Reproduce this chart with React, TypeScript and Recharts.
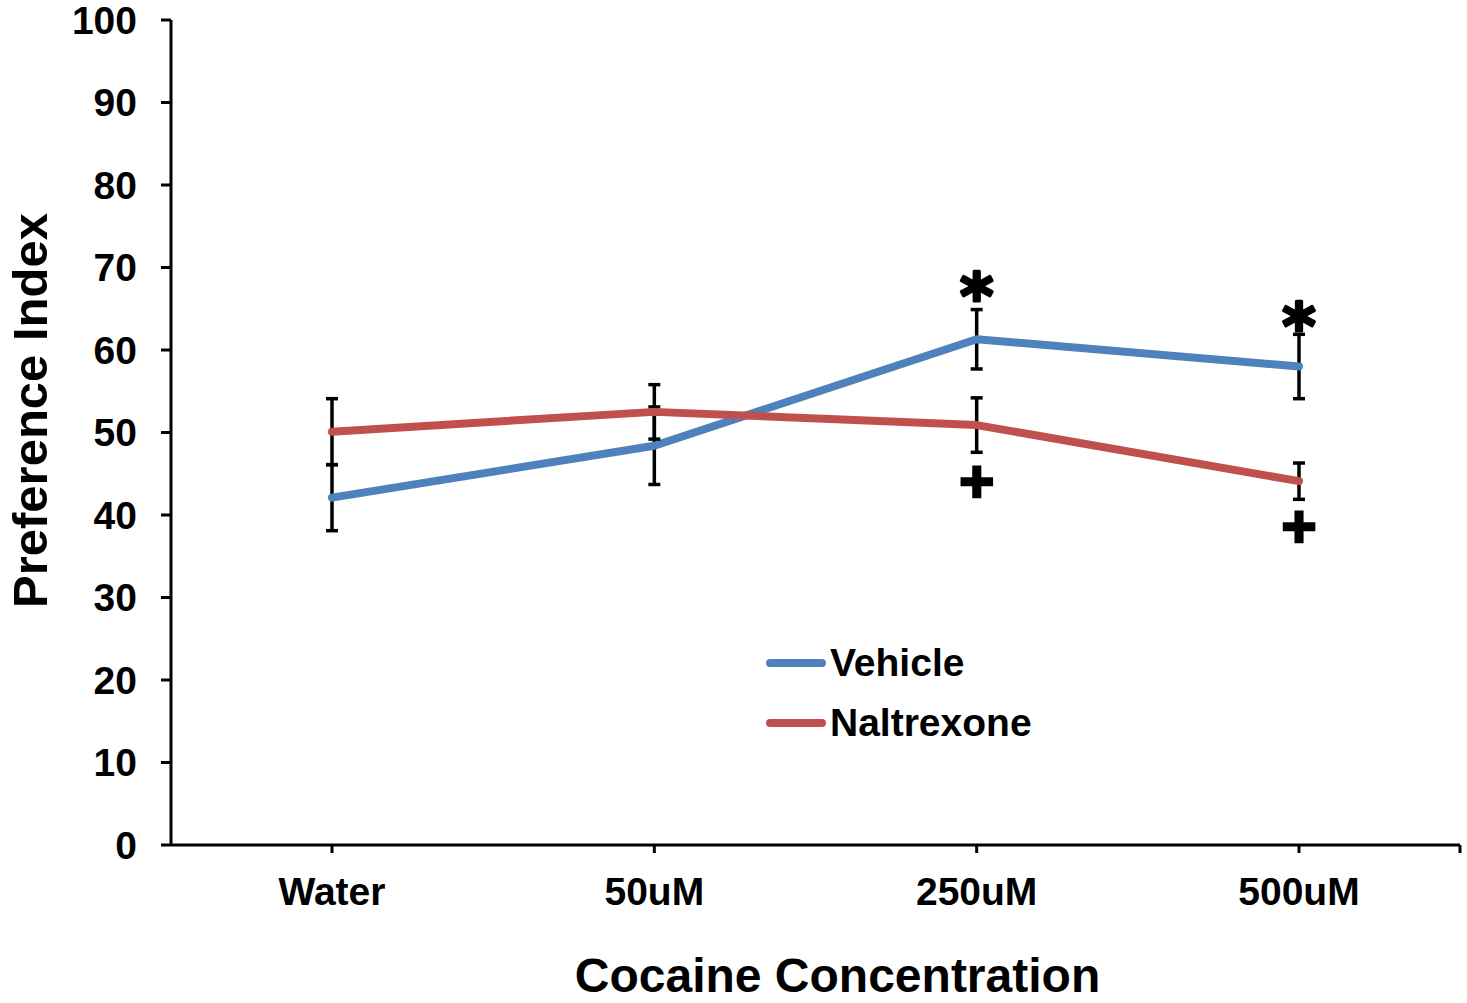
import React from 'react';
import * as R from 'recharts';
import { ComposedChart, Line, XAxis, YAxis, ErrorBar, Legend, Label } from 'recharts';

const categories = ['Water', '50uM', '250uM', '500uM'];
const seriesNames = ['Vehicle', 'Naltrexone'];
const vehicle = [42.1, 48.4, 61.3, 58.0];
const vehicleErr = [4.0, 4.7, 3.6, 3.9];
const naltrexone = [50.1, 52.5, 50.9, 44.1];
const naltrexoneErr = [4.0, 3.3, 3.3, 2.2];
const vehicleMarks = ['', '', '*', '*'];
const vehicleMarkY = [null, null, 68.2, 64.6];
const naltrexoneMarks = ['', '', '+', '+'];
const naltrexoneMarkY = [null, null, 44.0, 38.6];
const yTicks = [0, 10, 20, 30, 40, 50, 60, 70, 80, 90, 100];

const data = categories.map((c, i) => ({
  name: c,
  vehicle: vehicle[i],
  vErr: vehicleErr[i],
  naltrexone: naltrexone[i],
  nErr: naltrexoneErr[i],
  vMarkY: vehicleMarkY[i],
  nMarkY: naltrexoneMarkY[i],
}));

const FONT = '"Liberation Sans", Arial, sans-serif';
const BLUE = '#4F81BD';
const RED = '#C0504D';

const makeMark = (marks: string[], kind: 'star' | 'plus') => (props: any) => {
  const { cx, cy, index } = props;
  const key = `m-${kind}-${index}`;
  if (cx == null || cy == null || !marks[index]) return <g key={key} />;
  if (kind === 'star') {
    return (
      <text key={key} x={cx} y={cy + 37} textAnchor="middle" fontFamily='"DejaVu Sans", sans-serif' fontWeight="bold" fontSize={64} fill="#000" stroke="#000" strokeWidth={3} strokeLinejoin="round">
        {marks[index]}
      </text>
    );
  }
  return (
    <text key={key} x={cx} y={cy + 20} textAnchor="middle" fontFamily={FONT} fontWeight="bold" fontSize={60} fill="#000" stroke="#000" strokeWidth={2.5}>
      {marks[index]}
    </text>
  );
};

const EdgeTick = () => {
  const hook = (R as any).usePlotArea;
  const area = hook ? hook() : null;
  if (!area) return null;
  const x = area.x + area.width;
  const y = area.y + area.height;
  return <line x1={x} x2={x} y1={y} y2={y + 8} stroke="#000" strokeWidth={3} />;
};

const renderLegend = (props: any) => {
  const payload = (props.payload || [])
    .filter((p: any) => seriesNames.includes(p.value))
    .sort((a: any, b: any) => seriesNames.indexOf(a.value) - seriesNames.indexOf(b.value));
  return (
    <div style={{ display: 'flex', flexDirection: 'column' }}>
      {payload.map((p: any) => (
        <div key={p.value} style={{ display: 'flex', alignItems: 'center', height: 60 }}>
          <svg width={64} height={12} style={{ display: 'block' }}>
            <line x1={8} x2={60} y1={6} y2={6} stroke={p.color} strokeWidth={8} strokeLinecap="round" />
          </svg>
          <span style={{ fontFamily: FONT, fontWeight: 'bold', fontSize: 39, color: '#000', marginLeft: 4, lineHeight: '60px' }}>{p.value}</span>
        </div>
      ))}
    </div>
  );
};

const YTitle = (props: any) => {
  const vb = props.viewBox || { x: 0, y: 20, width: 171, height: 825 };
  const cx = 30;
  const cy = vb.y + vb.height / 2 - 22;
  return (
    <text x={cx} y={cy} transform={`rotate(-90, ${cx}, ${cy})`} textAnchor="middle" dominantBaseline="central" fontFamily={FONT} fontWeight="bold" fontSize={49} fill="#000">
      Preference Index
    </text>
  );
};

const XTitle = (props: any) => {
  const vb = props.viewBox || { x: 171, y: 845, width: 1289, height: 158 };
  const cx = vb.x + vb.width / 2 + 22;
  return (
    <text x={cx} y={992} textAnchor="middle" fontFamily={FONT} fontWeight="bold" fontSize={48} fill="#000">
      Cocaine Concentration
    </text>
  );
};

export default function App() {
  return (
    <div style={{ position: 'absolute', left: 0, top: 0, width: 1467, height: 1003, background: '#fff' }}>
      <ComposedChart width={1467} height={1003} data={data} margin={{ top: 20, right: 7, bottom: 0, left: 0 }}>
        <XAxis
          dataKey="name"
          padding={{ left: 161, right: 161 }}
          height={158}
          axisLine={{ stroke: '#000', strokeWidth: 3 }}
          tickLine={{ stroke: '#000', strokeWidth: 3 }}
          tickSize={8}
          tickMargin={24}
          tick={{ fontFamily: FONT, fontWeight: 'bold', fontSize: 39, fill: '#000' }}
        >
          <Label content={<XTitle />} />
        </XAxis>
        <YAxis
          domain={[0, 100]}
          ticks={yTicks}
          width={171}
          axisLine={{ stroke: '#000', strokeWidth: 3 }}
          tickLine={{ stroke: '#000', strokeWidth: 3 }}
          tickSize={10}
          tickMargin={24}
          interval={0}
          tick={{ fontFamily: FONT, fontWeight: 'bold', fontSize: 39, fill: '#000' }}
        >
          <Label content={<YTitle />} />
        </YAxis>
        <Legend
          content={renderLegend}
          layout="vertical"
          align="center"
          verticalAlign="middle"
          wrapperStyle={{ position: 'absolute', left: 762, top: 633, width: 320, height: 120 }}
        />
        <Line
          dataKey="vehicle"
          name="Vehicle"
          stroke={BLUE}
          strokeWidth={8}
          strokeLinecap="round"
          strokeLinejoin="round"
          dot={false}
          activeDot={false}
          isAnimationActive={false}
        >
          <ErrorBar dataKey="vErr" direction="y" width={6} stroke="#000" strokeWidth={3.5} />
        </Line>
        <Line
          dataKey="naltrexone"
          name="Naltrexone"
          stroke={RED}
          strokeWidth={8}
          strokeLinecap="round"
          strokeLinejoin="round"
          dot={false}
          activeDot={false}
          isAnimationActive={false}
        >
          <ErrorBar dataKey="nErr" direction="y" width={6} stroke="#000" strokeWidth={3.5} />
        </Line>
        <Line
          dataKey="vMarkY"
          stroke="none"
          legendType="none"
          dot={makeMark(vehicleMarks, 'star')}
          activeDot={false}
          isAnimationActive={false}
        />
        <Line
          dataKey="nMarkY"
          stroke="none"
          legendType="none"
          dot={makeMark(naltrexoneMarks, 'plus')}
          activeDot={false}
          isAnimationActive={false}
        />
        <EdgeTick />
      </ComposedChart>
    </div>
  );
}
